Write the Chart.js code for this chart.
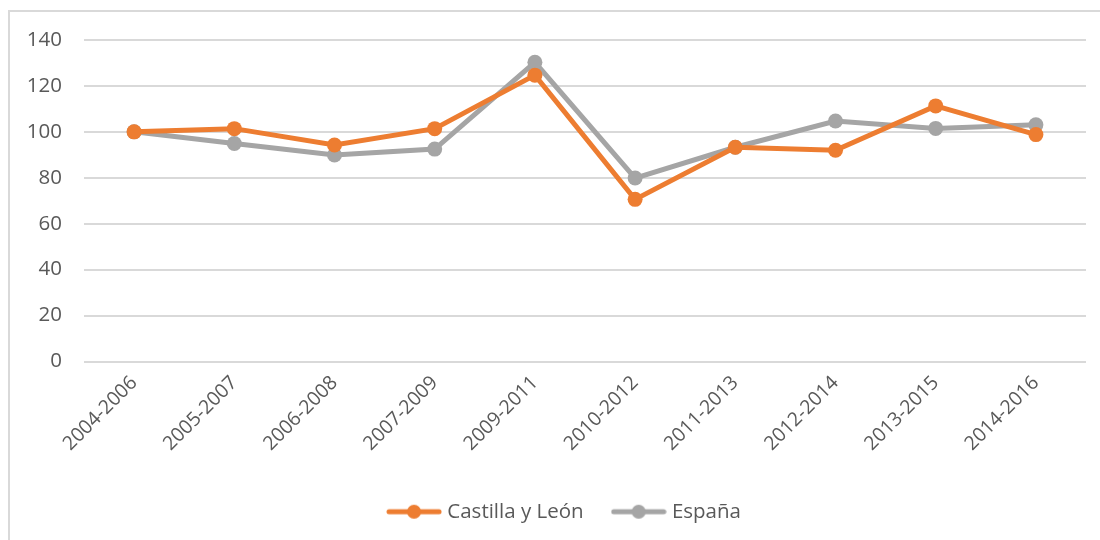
<!DOCTYPE html>
<html>
<head>
<meta charset="utf-8">
<script src="https://cdn.jsdelivr.net/npm/chart.js@4"></script>
<style>
  html, body { margin: 0; padding: 0; background: #fff; }
  #wrap { position: relative; width: 1100px; height: 540px; overflow: hidden; }
  #frame { position: absolute; left: 8px; top: 10px; width: 1200px; height: 700px; border: 2px solid #d9d9d9; box-sizing: border-box; }
  #myLineChart { position: absolute; left: 0; top: 0; }
</style>
</head>
<body>
<div id="wrap">
  <div id="frame"></div>
  <canvas id="myLineChart" width="1100" height="540"></canvas>
</div>
<script>
// periodos
const periodos = ['2004-2006', '2005-2007', '2006-2008', '2007-2009', '2009-2011',
                  '2010-2012', '2011-2013', '2012-2014', '2013-2015', '2014-2016'];
// series
const castillaLeon = [100, 101.4, 94.3, 101.4, 124.7, 70.6, 93.3, 92.0, 111.3, 98.8];
const espana = [100, 94.9, 89.9, 92.5, 130.3, 79.9, 93.3, 104.7, 101.5, 103.1];
// eje y
const yTicks = [0, 20, 40, 60, 80, 100, 120, 140];

const naranja = '#ED7D31';
const gris = '#A5A5A5';
const textoColor = '#595959';

// marcador de la leyenda: linea con circulo
function marcador(color) {
    const c = document.createElement('canvas');
    c.width = 56; c.height = 16;
    const g = c.getContext('2d');
    g.strokeStyle = color;
    g.lineWidth = 5;
    g.lineCap = 'round';
    g.beginPath(); g.moveTo(3, 8); g.lineTo(53, 8); g.stroke();
    g.fillStyle = color;
    g.beginPath(); g.arc(28, 8, 7, 0, Math.PI * 2); g.fill();
    return c;
}

// desplazar la leyenda un poco a la derecha
const moverLeyenda = {
    id: 'moverLeyenda',
    afterLayout(chart) {
        chart.legend.left += 13;
        chart.legend.right += 13;
    },
};

document.addEventListener('DOMContentLoaded', function () {
    const ctx = document.getElementById('myLineChart').getContext('2d');
    Chart.defaults.font.family = '"Open Sans", Lato, sans-serif';
    Chart.defaults.color = textoColor;

    const data = {
        labels: periodos,
        datasets: [
            {
                label: 'Castilla y León',
                data: castillaLeon,
                borderColor: naranja,
                backgroundColor: naranja,
                borderWidth: 5,
                pointRadius: 7.5,
                pointBorderWidth: 0,
                pointHoverRadius: 7.5,
                fill: false,
                tension: 0,
            },
            {
                label: 'España',
                data: espana,
                borderColor: gris,
                backgroundColor: gris,
                borderWidth: 5,
                pointRadius: 7.5,
                pointBorderWidth: 0,
                pointHoverRadius: 7.5,
                fill: false,
                tension: 0,
            },
        ],
    };

    const marcadores = [marcador(naranja), marcador(gris)];

    const options = {
        responsive: false,
        animation: false,
        layout: { padding: { left: 20, right: 14, top: 40, bottom: 8 } },
        scales: {
            x: {
                offset: true,
                grid: { display: false },
                border: { display: false },
                ticks: { font: { size: 19.5 }, color: textoColor, minRotation: 45, maxRotation: 45, padding: 2, autoSkip: false },
                afterFit: function (s) { s.height = 108; },
            },
            y: {
                min: 0,
                max: 140,
                afterBuildTicks: function (s) { s.ticks = yTicks.map(v => ({ value: v })); },
                grid: { color: '#d9d9d9', lineWidth: 2, drawTicks: false },
                border: { display: false },
                ticks: { font: { size: 20.5 }, color: textoColor, padding: 22 },
                afterFit: function (s) { s.width = 64; },
            },
        },
        plugins: {
            tooltip: { enabled: false },
            legend: {
                position: 'bottom',
                labels: {
                    font: { size: 20.5 },
                    color: textoColor,
                    usePointStyle: true,
                    pointStyleWidth: 46,
                    padding: 32,
                    generateLabels: function (chart) {
                        return chart.data.datasets.map((ds, i) => ({
                            text: ds.label,
                            fontColor: textoColor,
                            pointStyle: marcadores[i],
                            datasetIndex: i,
                            hidden: false,
                            lineWidth: 0,
                        }));
                    },
                },
            },
        },
    };

    new Chart(ctx, {
        type: 'line',
        data: data,
        options: options,
        plugins: [moverLeyenda],
    });
});
</script>
</body>
</html>
